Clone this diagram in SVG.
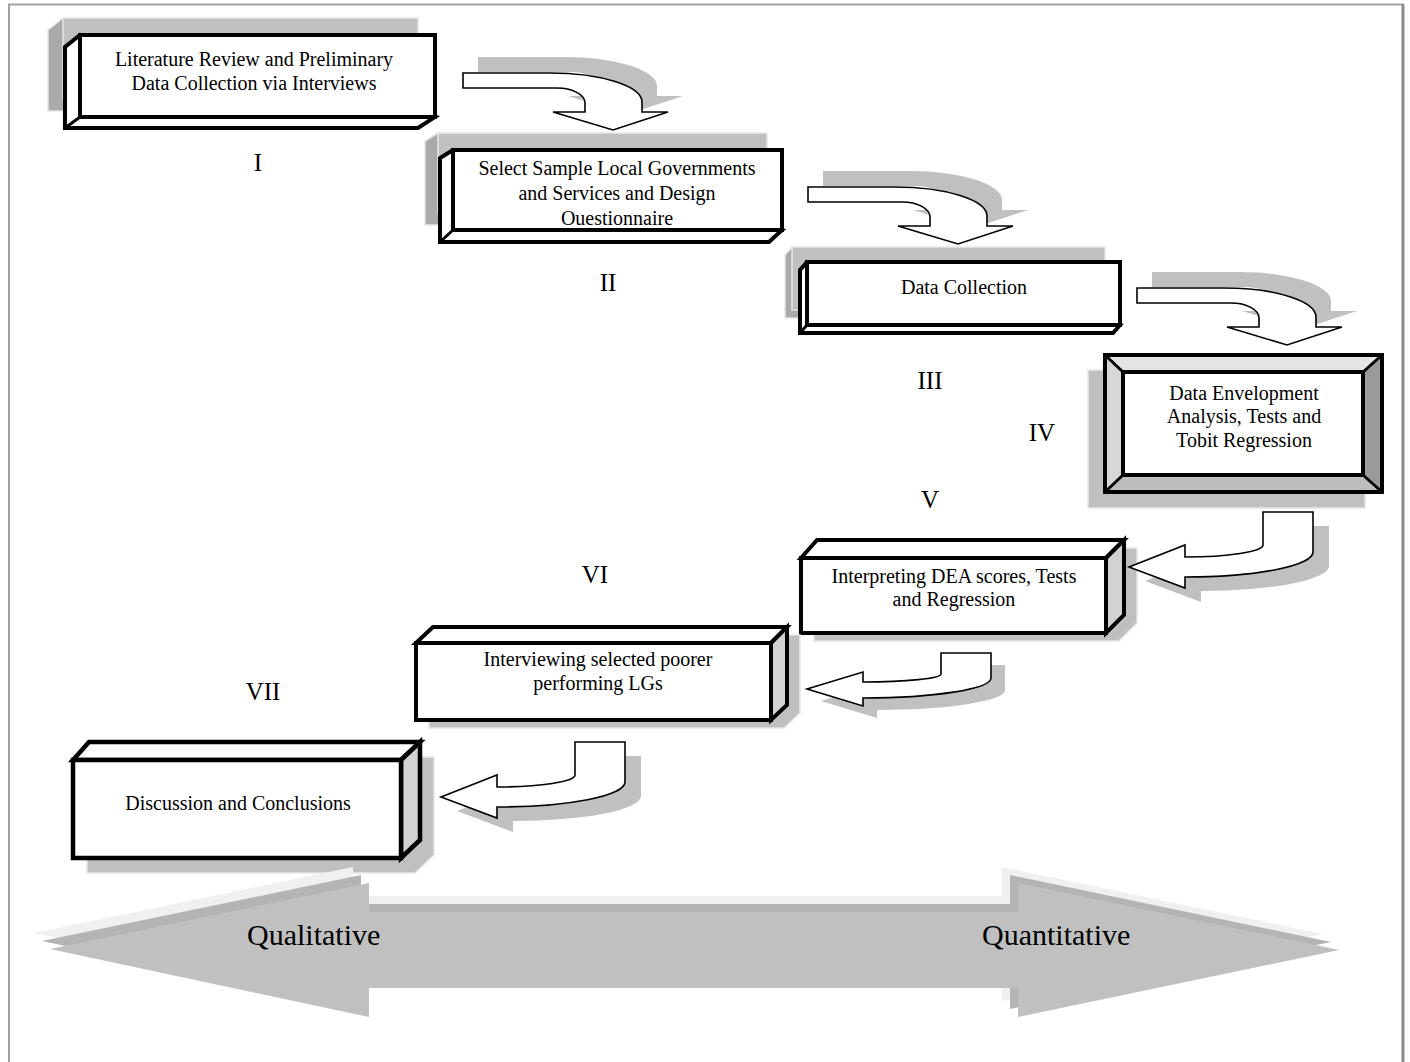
<svg xmlns="http://www.w3.org/2000/svg" xmlns:xlink="http://www.w3.org/1999/xlink" width="1410" height="1062" viewBox="0 0 1410 1062">
<style>
.face{fill:#fff;stroke:#000;stroke-width:4;stroke-linejoin:miter}
.edge{stroke:#000;stroke-width:3;fill:none}
.sh{fill:#c0c0c0;stroke:#e6e6e6;stroke-width:1.5}
.shd{fill:#aaaaaa;stroke:#e6e6e6;stroke-width:1.5}
.arr{fill:#fff;stroke:#000;stroke-width:1.6;stroke-linejoin:miter}
.ash{fill:#c0c0c0;stroke:none}
.t{font-family:"Liberation Serif","Times New Roman",serif;font-size:20px;text-anchor:middle;fill:#000}
.num{font-family:"Liberation Serif","Times New Roman",serif;font-size:25px;text-anchor:middle;fill:#000}
.big{font-family:"Liberation Serif","Times New Roman",serif;font-size:30px;fill:#000}
</style>
<defs>
<path id="cdown" d="M0,0 L87,0 A92,29 0 0 1 179,29 L179,39 L205,39 L150,57 L90,39 L122,39 L122,30 A28,15 0 0 0 94,15 L0,15 Z"/>
<path id="cleft" d="M0,0 L50,0 L50,40 A128,25 0 0 1 -78,65 L-78,76 L-134,55 L-78,33 L-78,45 A78,12 0 0 0 0,33 Z"/>
<path id="cleft2" d="M0,0 L50,0 L50,25 A128,20 0 0 1 -78,45 L-78,53 L-134,36 L-78,19 L-78,29 A78,8 0 0 0 0,21 Z"/>
<path id="dbl" d="M50,949 L369,883 L369,912 L1018,912 L1018,883 L1339,950 L1018,1017 L1018,988 L369,988 L369,1017 Z"/>
</defs>
<rect width="1410" height="1062" fill="#fff"/>
<rect x="9" y="4.5" width="1394" height="1080" fill="none" stroke="#a0a0a0" stroke-width="2"/>
<line x1="1403" y1="4" x2="1403" y2="1062" stroke="#8a8a8a" stroke-width="3"/>

<g id="box1">
 <g transform="translate(-17,-17)">
  <polygon class="shd" points="80,35 65,47 65,128 418,128 435,117"/>
  <rect class="sh" x="80" y="35" width="355" height="82"/>
 </g>
 <polygon class="face" points="80,35 65,47 65,128 418,128 435,117"/>
 <rect class="face" x="80" y="35" width="355" height="82"/>
 <line class="edge" x1="80" y1="117" x2="65" y2="128"/>
 <text class="t" x="254" y="66">Literature Review and Preliminary</text>
 <text class="t" x="254" y="90">Data Collection via Interviews</text>
 <text class="num" x="258" y="171">I</text>
</g>

<g id="box2">
 <g transform="translate(-15,-17)">
  <polygon class="shd" points="453,150 440,158 440,242 769,242 782,230"/>
  <rect class="sh" x="453" y="150" width="329" height="80"/>
 </g>
 <polygon class="face" points="453,150 440,158 440,242 769,242 782,230"/>
 <rect class="face" x="453" y="150" width="329" height="80"/>
 <line class="edge" x1="453" y1="230" x2="440" y2="242"/>
 <text class="t" x="617" y="175">Select Sample Local Governments</text>
 <text class="t" x="617" y="200">and Services and Design</text>
 <text class="t" x="617" y="225">Ouestionnaire</text>
 <text class="num" x="608" y="291">II</text>
</g>

<g id="box3">
 <g transform="translate(-15,-15)">
  <polygon class="shd" points="807,262 800,270 800,333 1113,333 1120,325"/>
  <rect class="sh" x="807" y="262" width="313" height="63"/>
 </g>
 <polygon class="face" points="807,262 800,270 800,333 1113,333 1120,325"/>
 <rect class="face" x="807" y="262" width="313" height="63"/>
 <line class="edge" x1="807" y1="325" x2="800" y2="333"/>
 <text class="t" x="964" y="294">Data Collection</text>
 <text class="num" x="930" y="389">III</text>
</g>

<g id="box4">
 <rect class="sh" x="1088" y="370" width="277" height="138"/>
 <polygon points="1105,355 1382,355 1363,372 1123,372" fill="#e4e4e4"/>
 <polygon points="1105,355 1123,372 1123,475 1105,492" fill="#d8d8d8"/>
 <polygon points="1382,355 1382,492 1363,475 1363,372" fill="#9a9a9a"/>
 <polygon points="1105,492 1382,492 1363,475 1123,475" fill="#bdbdbd"/>
 <rect x="1105" y="355" width="277" height="137" fill="none" stroke="#000" stroke-width="4"/>
 <rect x="1123" y="372" width="240" height="103" fill="#fff" stroke="#000" stroke-width="4"/>
 <path class="edge" d="M1105,355 L1123,372 M1382,355 L1363,372 M1105,492 L1123,475 M1382,492 L1363,475"/>
 <text class="t" x="1244" y="400">Data Envelopment</text>
 <text class="t" x="1244" y="423">Analysis, Tests and</text>
 <text class="t" x="1244" y="447">Tobit Regression</text>
 <text class="num" x="1042" y="441">IV</text>
</g>

<g id="box5">
 <polygon class="sh" transform="translate(13,8)" points="801,558 817,540 1124,540 1124,615 1106,633 801,633"/>
 <polygon class="face" points="801,558 817,540 1124,540 1106,558"/>
 <polygon class="face" style="fill:#d2d2d2" points="1106,558 1124,540 1124,615 1106,633"/>
 <rect class="face" x="801" y="558" width="305" height="75"/>
 <text class="t" x="954" y="583">Interpreting DEA scores, Tests</text>
 <text class="t" x="954" y="606">and Regression</text>
 <text class="num" x="930" y="508">V</text>
</g>

<g id="box6">
 <polygon class="sh" transform="translate(13,8)" points="416,643 433,627 787,627 787,705 771,720 416,720"/>
 <polygon class="face" points="416,643 433,627 787,627 771,643"/>
 <polygon class="face" style="fill:#d2d2d2" points="771,643 787,627 787,705 771,720"/>
 <rect class="face" x="416" y="643" width="355" height="77"/>
 <text class="t" x="598" y="666">Interviewing selected poorer</text>
 <text class="t" x="598" y="690">performing LGs</text>
 <text class="num" x="595" y="583">VI</text>
</g>

<g id="box7">
 <polygon class="sh" transform="translate(14,15)" points="73,760 89,742 420,742 420,840 401,858 73,858"/>
 <polygon class="face" style="stroke-width:4.5" points="73,760 89,742 420,742 401,760"/>
 <polygon class="face" style="fill:#d2d2d2;stroke-width:4.5" points="401,760 420,742 420,840 401,858"/>
 <rect class="face" style="stroke-width:4.5" x="73" y="760" width="328" height="98"/>
 <text class="t" x="238" y="810">Discussion and Conclusions</text>
 <text class="num" x="263" y="700">VII</text>
</g>

<g id="connectors">
 <use href="#cdown" xlink:href="#cdown" class="ash" transform="translate(478,57)"/>
 <use href="#cdown" xlink:href="#cdown" class="arr" transform="translate(463,73)"/>
 <use href="#cdown" xlink:href="#cdown" class="ash" transform="translate(823,171)"/>
 <use href="#cdown" xlink:href="#cdown" class="arr" transform="translate(808,187)"/>
 <use href="#cdown" xlink:href="#cdown" class="ash" transform="translate(1152,272)"/>
 <use href="#cdown" xlink:href="#cdown" class="arr" transform="translate(1137,288)"/>
 <use href="#cleft" xlink:href="#cleft" class="ash" transform="translate(1279,526)"/>
 <use href="#cleft" xlink:href="#cleft" class="arr" transform="translate(1263,512)"/>
 <use href="#cleft2" xlink:href="#cleft2" class="ash" transform="translate(955,665)"/>
 <use href="#cleft2" xlink:href="#cleft2" class="arr" transform="translate(941,653)"/>
 <use href="#cleft" xlink:href="#cleft" class="ash" transform="translate(591,756)"/>
 <use href="#cleft" xlink:href="#cleft" class="arr" transform="translate(575,742)"/>
</g>

<g id="scale-arrow">
 <use href="#dbl" xlink:href="#dbl" fill="#f0f0f0" transform="translate(-16,-16)"/>
 <use href="#dbl" xlink:href="#dbl" fill="#b4b4b4" transform="translate(-8,-8)"/>
 <use href="#dbl" xlink:href="#dbl" fill="#c0c0c0"/>
 <text class="big" x="247" y="945">Qualitative</text>
 <text class="big" x="982" y="945">Quantitative</text>
</g>
</svg>
